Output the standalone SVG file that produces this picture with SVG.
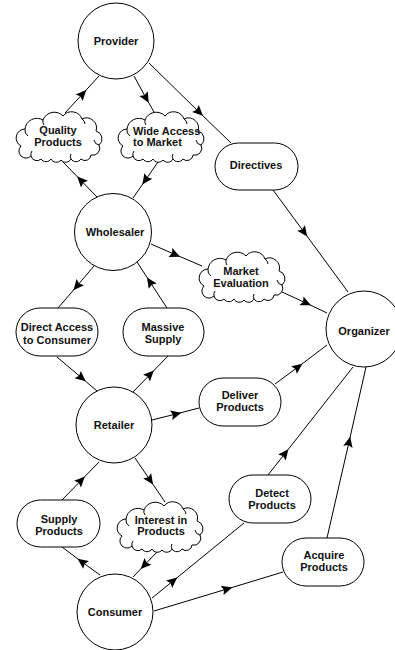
<svg xmlns="http://www.w3.org/2000/svg" width="395" height="650" viewBox="0 0 395 650">
  <style>
    .node { fill: #fff; stroke: #000; stroke-width: 1; }
    .curl { fill: none; stroke: #000; stroke-width: 1; }
    .lbl { font-family: "Liberation Sans", Arial, sans-serif; font-size: 11px; font-weight: bold; fill: #111; text-anchor: middle; }
    .lbl-left { text-anchor: start; }
    .edge { fill: none; stroke: #000; stroke-width: 1; marker-mid: url(#arrow); }
  </style>
  <defs>
    <marker id="arrow" markerUnits="userSpaceOnUse" viewBox="-6 -6 12 12" markerWidth="12" markerHeight="12" refX="0" refY="0" orient="auto">
      <path d="M5.5,0 L-5,-4.8 L-3.2,0 L-5,4.8 Z" fill="#000"/>
    </marker>
    <!-- cloud outline, 86 x 50 -->
    <g id="cloud">
      <path class="node" d="M5,34 A9,9 0 0,1 9,17 A12,12 0 0,1 27,8 A12,12 0 0,1 47,4 A11,11 0 0,1 66,7 A10,10 0 0,1 80,19 A8,8 0 0,1 83,33 A7,7 0 0,1 75,43 A6,6 0 0,1 65,47 A6,6 0 0,1 55,47 A6,6 0 0,1 45,48 A6,6 0 0,1 35,47 A6,6 0 0,1 25,47 A6,6 0 0,1 15,44 A7,7 0 0,1 5,34 Z"/>
      <path class="curl" d="M9,17 A7,7 0 0,0 12,24 M27,8 A6,6 0 0,0 28,13 M66,7 A6,6 0 0,1 69,12 M83,33 A6,6 0 0,1 78,28 M15,44 A6,6 0 0,1 16,39 M55,47 A5,5 0 0,1 55,42"/>
    </g>
  </defs>

  <!-- connectors -->
  <g id="connectors">
    <polyline class="edge" points="65,113 82.5,94 99,76"/>
    <polyline class="edge" points="134,76 146,98 154,112"/>
    <polyline class="edge" points="149,63 199,112 231,143"/>
    <polyline class="edge" points="273,190 304,232 348,292"/>
    <polyline class="edge" points="97,197 81,180.5 63,162"/>
    <polyline class="edge" points="158,162 145.5,180 133,198"/>
    <polyline class="edge" points="151,244 175,254.5 202,266"/>
    <polyline class="edge" points="282,292 306,303 327,313"/>
    <polyline class="edge" points="94,266 77,286 58,308"/>
    <polyline class="edge" points="167,308 150,282 137,262"/>
    <polyline class="edge" points="57,357 81.5,377.8 97,391"/>
    <polyline class="edge" points="133,392 150,374.5 168,356"/>
    <polyline class="edge" points="152,420 176,414 199,408"/>
    <polyline class="edge" points="275,384 298,367 327,345"/>
    <polyline class="edge" points="62,500 81,480.5 99,462"/>
    <polyline class="edge" points="135,458 150,480 165,502"/>
    <polyline class="edge" points="100,575 82,562 62,547"/>
    <polyline class="edge" points="157,552 144.5,565 133,577"/>
    <polyline class="edge" points="152,598 173,581 244,523"/>
    <polyline class="edge" points="268,475 285,453.5 353,367"/>
    <polyline class="edge" points="154,611 227,589 283,572"/>
    <polyline class="edge" points="327,538 349,442 366,367"/>
  </g>

  <g id="provider">
    <circle class="node" cx="116" cy="41" r="38"/>
    <text class="lbl" x="116" y="45">Provider</text>
  </g>
  <g id="quality-products">
    <use href="#cloud" x="16" y="112"/>
    <text class="lbl" x="58" y="134">Quality</text>
    <text class="lbl" x="58" y="146">Products</text>
  </g>
  <g id="wide-access">
    <use href="#cloud" x="118" y="112"/>
    <text class="lbl lbl-left" x="133" y="135">Wide Access</text>
    <text class="lbl lbl-left" x="133" y="146">to Market</text>
  </g>
  <g id="directives">
    <rect class="node" x="215" y="143" width="83" height="47" rx="23.5"/>
    <text class="lbl" x="256" y="169">Directives</text>
  </g>
  <g id="wholesaler">
    <circle class="node" cx="113" cy="232" r="38.5"/>
    <text class="lbl" x="115" y="236">Wholesaler</text>
  </g>
  <g id="market-evaluation">
    <use href="#cloud" x="199" y="252"/>
    <text class="lbl" x="241" y="275">Market</text>
    <text class="lbl" x="241" y="287">Evaluation</text>
  </g>
  <g id="organizer">
    <circle class="node" cx="364" cy="329" r="38"/>
    <text class="lbl" x="364" y="335">Organizer</text>
  </g>
  <g id="direct-access">
    <rect class="node" x="16" y="308" width="82" height="48" rx="24"/>
    <text class="lbl" x="57" y="331">Direct Access</text>
    <text class="lbl" x="57" y="344">to Consumer</text>
  </g>
  <g id="massive-supply">
    <rect class="node" x="123" y="308" width="81" height="48" rx="24"/>
    <text class="lbl" x="163" y="331">Massive</text>
    <text class="lbl" x="163" y="343">Supply</text>
  </g>
  <g id="retailer">
    <circle class="node" cx="114" cy="425" r="38"/>
    <text class="lbl" x="114" y="429">Retailer</text>
  </g>
  <g id="deliver-products">
    <rect class="node" x="199" y="378" width="82" height="48" rx="24"/>
    <text class="lbl" x="240" y="399">Deliver</text>
    <text class="lbl" x="240" y="411">Products</text>
  </g>
  <g id="supply-products">
    <rect class="node" x="17" y="500" width="83" height="47" rx="23.5"/>
    <text class="lbl" x="59" y="523">Supply</text>
    <text class="lbl" x="59" y="535">Products</text>
  </g>
  <g id="interest-in-products">
    <use href="#cloud" x="117" y="502"/>
    <text class="lbl" x="161" y="524">Interest in</text>
    <text class="lbl" x="161" y="535">Products</text>
  </g>
  <g id="consumer">
    <circle class="node" cx="115" cy="612" r="38"/>
    <text class="lbl" x="115" y="616">Consumer</text>
  </g>
  <g id="detect-products">
    <rect class="node" x="229" y="475" width="82" height="48" rx="24"/>
    <text class="lbl" x="272" y="497">Detect</text>
    <text class="lbl" x="272" y="509">Products</text>
  </g>
  <g id="acquire-products">
    <rect class="node" x="282" y="538" width="82" height="48" rx="24"/>
    <text class="lbl" x="324" y="559">Acquire</text>
    <text class="lbl" x="324" y="571">Products</text>
  </g>
</svg>
